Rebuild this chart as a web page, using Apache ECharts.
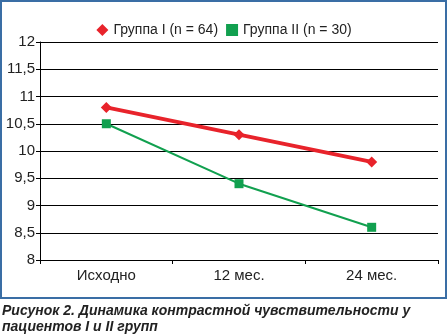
<!DOCTYPE html>
<html>
<head>
<meta charset="utf-8">
<script src="https://cdn.jsdelivr.net/npm/echarts@6/dist/echarts.min.js"></script>
<style>
  html, body { margin: 0; padding: 0; background: #fff; }
  #chart { width: 448px; height: 336px; }
</style>
</head>
<body>
<div id="chart"></div>
<script>
const categories = ['Исходно', '12 мес.', '24 мес.'];
const group1 = [10.8, 10.3, 9.8];
const group2 = [10.5, 9.4, 8.6];
const seriesNames = ['Группа I (n = 64)', 'Группа II (n = 30)'];
const captionLines = ['Рисунок 2. Динамика контрастной чувствительности у', 'пациентов I и II групп'];

const chart = echarts.init(document.getElementById('chart'));
const font = 'Liberation Sans, Arial, sans-serif';

chart.setOption({
  backgroundColor: '#fff',
  animation: false,
  legend: {
    top: 18,
    left: 'center',
    itemGap: 8,
    itemWidth: 12,
    itemHeight: 12,
    textStyle: { fontFamily: font, fontSize: 14, color: '#222' },
    data: [
      { name: seriesNames[0], icon: 'diamond', itemStyle: { color: '#e8232b' } },
      { name: seriesNames[1], icon: 'rect', itemStyle: { color: '#11a04f' } }
    ]
  },
  grid: { left: 40, right: 10, top: 42, bottom: 76, containLabel: false },
  xAxis: {
    type: 'category',
    data: categories,
    boundaryGap: true,
    axisLine: { lineStyle: { color: '#000', width: 1 } },
    axisTick: { show: true, length: 4, lineStyle: { color: '#000' } },
    axisLabel: { fontFamily: font, fontSize: 15, color: '#222', margin: 8 }
  },
  yAxis: {
    type: 'value',
    min: 8,
    max: 12,
    interval: 0.5,
    axisLine: { show: true, lineStyle: { color: '#000', width: 1 } },
    axisTick: { show: true, length: 4, lineStyle: { color: '#000' } },
    splitLine: { lineStyle: { color: '#000', width: 1 } },
    axisLabel: {
      fontFamily: font, fontSize: 15, color: '#222', margin: 5,
      formatter: v => String(v).replace('.', ',')
    }
  },
  series: [
    {
      name: seriesNames[0],
      type: 'line',
      data: group1,
      symbol: 'diamond',
      symbolSize: 11,
      lineStyle: { color: '#e8232b', width: 4 },
      itemStyle: { color: '#e8232b' }
    },
    {
      name: seriesNames[1],
      type: 'line',
      data: group2,
      symbol: 'rect',
      symbolSize: 9,
      lineStyle: { color: '#11a04f', width: 2 },
      itemStyle: { color: '#11a04f' }
    }
  ],
  graphic: [
    {
      type: 'rect',
      shape: { x: 1, y: 1, width: 445, height: 297 },
      style: { fill: 'none', stroke: '#3a6ea5', lineWidth: 2 },
      silent: true
    },
    {
      type: 'text',
      left: 2,
      top: 303,
      style: {
        text: captionLines.join('\n'),
        font: 'italic bold 14px ' + font,
        fill: '#222',
        lineHeight: 16
      }
    }
  ]
});
</script>
</body>
</html>
